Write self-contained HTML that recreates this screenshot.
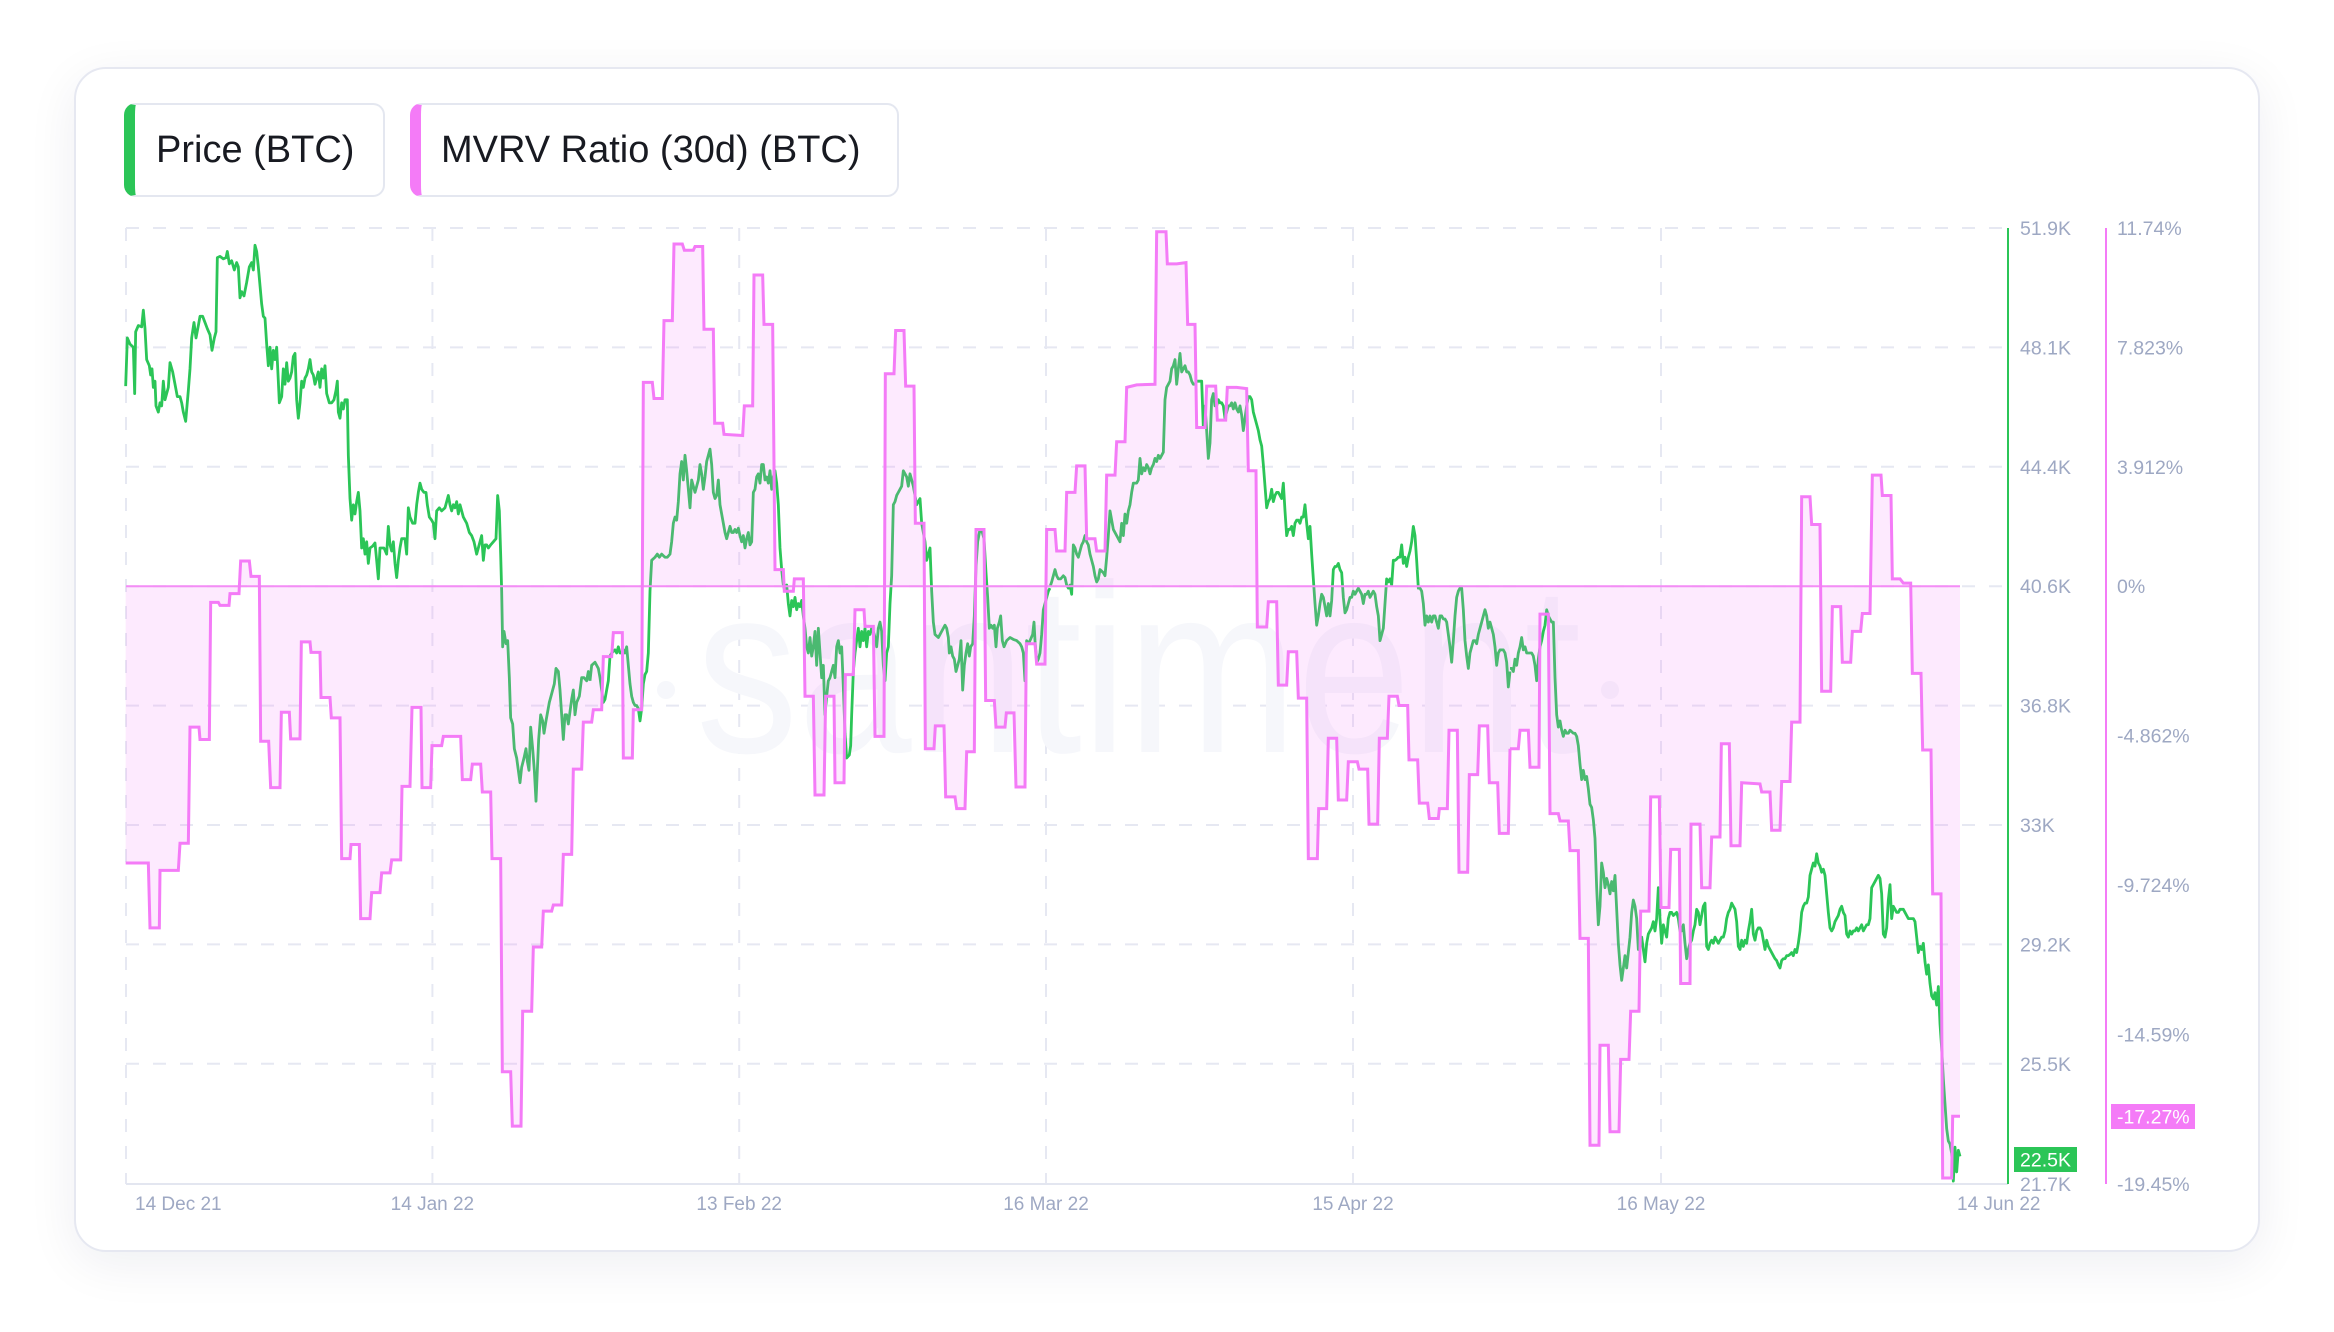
<!DOCTYPE html>
<html>
<head>
<meta charset="utf-8">
<style>
  html, body { margin:0; padding:0; }
  body { width:2334px; height:1332px; background:#ffffff; position:relative; overflow:hidden; font-family:"Liberation Sans", sans-serif; }
  .card { position:absolute; left:74px; top:67px; width:2182px; height:1181px; border:2px solid #e6e8f1; border-radius:32px; background:#fff; box-shadow:0 12px 50px rgba(20,30,70,0.07); }
  .leg { position:absolute; top:103px; height:90px; border:2px solid #e4e7f0; border-left:11px solid #2bc557; border-radius:12px; background:#fff; box-sizing:content-box; }
  .leg span { position:absolute; top:0; font-size:38px; line-height:90px; color:#181a21; white-space:nowrap; }
  svg { position:absolute; left:0; top:0; }
</style>
</head>
<body>
<div class="card"></div>
<div class="leg" style="left:124px; width:248px;"><span style="left:21px;">Price (BTC)</span></div>
<div class="leg" style="left:410px; width:476px; border-left-color:#f47bf7;"><span style="left:20px;">MVRV Ratio (30d) (BTC)</span></div>

<svg width="2334" height="1332" viewBox="0 0 2334 1332" xmlns="http://www.w3.org/2000/svg">
  <!-- horizontal grid -->
  <g stroke="#e6e8f2" stroke-width="2" stroke-dasharray="13 14" fill="none">
    <line x1="126" y1="228" x2="2008" y2="228"/>
    <line x1="126" y1="347.4" x2="2008" y2="347.4"/>
    <line x1="126" y1="466.8" x2="2008" y2="466.8"/>
    <line x1="126" y1="586.2" x2="2008" y2="586.2"/>
    <line x1="126" y1="705.6" x2="2008" y2="705.6"/>
    <line x1="126" y1="825" x2="2008" y2="825"/>
    <line x1="126" y1="944.4" x2="2008" y2="944.4"/>
    <line x1="126" y1="1063.8" x2="2008" y2="1063.8"/>
    <line x1="126" y1="228" x2="126" y2="1184"/>
    <line x1="432.4" y1="228" x2="432.4" y2="1184"/>
    <line x1="739.2" y1="228" x2="739.2" y2="1184"/>
    <line x1="1046" y1="228" x2="1046" y2="1184"/>
    <line x1="1353" y1="228" x2="1353" y2="1184"/>
    <line x1="1661" y1="228" x2="1661" y2="1184"/>
  </g>
  <line x1="126" y1="1184" x2="2008" y2="1184" stroke="#e3e6f0" stroke-width="2"/>

  <!-- watermark -->
  <g fill="#f6f7fb">
    <text x="696" y="752" font-family="Liberation Sans, sans-serif" font-size="240" textLength="885" lengthAdjust="spacingAndGlyphs">santiment</text>
    <circle cx="666" cy="690" r="9"/>
    <circle cx="1610" cy="690" r="9"/>
  </g>

  <!-- green price line -->
  <g fill="none" stroke="#2bc557" stroke-width="2.8" stroke-linejoin="round">
    <g transform="translate(120,228) scale(0.333333,0.6177) translate(0,-12)">
      <polyline vector-effect="non-scaling-stroke" points="17,268 22,190 30,200 40,205 44,280 47,180 55,170 65,172 70,145 75,175 80,225 88,235 92,250 96,240 100,270 105,260 108,300 115,310 120,295 125,300 130,260 135,290 140,280 145,270 150,230 158,245 165,265 172,285 180,285 185,295 190,310 197,325 205,275 210,240 215,190 222,165 228,190 235,170 240,155 248,155 255,165 262,175 270,185 276,210 283,190 288,180 292,60 300,58 310,62 318,60 322,50 328,70 335,65 343,80 350,68 355,75 360,125 365,115 372,122 380,100 388,75 395,68 400,80 405,40 410,50 415,75 420,105 425,135 430,155 435,158 440,200 445,235 450,205 455,240 460,210 465,225 470,205 475,260 478,295 485,285 490,240 495,265 500,230 505,260 510,255 515,245 520,220 525,215 530,290 535,320 540,295 545,260 550,270 555,255 560,250 565,240 570,225 575,245 580,250 585,265 590,255 595,245 600,270 605,240 610,255 615,235 620,280 628,295 635,295 642,290 648,275 652,260 655,310 660,320 665,295 670,305 675,290 682,290 685,380 690,450 695,485 700,460 705,475 710,455 715,440 720,470 725,530 730,515 735,540 740,520 745,555 750,530 758,527 765,522 770,550 775,580 780,530 785,530 792,530 800,540 805,495 810,525 815,535 820,520 825,555 830,578 835,550 840,530 845,515 855,515 860,540 865,465 870,480 878,490 885,490 890,460 895,440 900,425 905,435 912,440 918,440 922,460 928,480 935,485 940,490 945,515 950,470 958,465 965,470 975,465 985,445 990,460 995,470 1000,460 1005,465 1010,455 1015,475 1020,460 1025,470 1030,480 1040,490 1048,505 1055,510 1062,520 1070,540 1075,530 1080,520 1085,510 1090,550 1095,525 1100,525 1105,530 1112,525 1120,520 1128,515 1133,445 1138,470 1142,540 1145,600 1148,690 1152,665 1158,685 1163,680 1168,740 1172,805 1178,815 1183,855 1190,870 1195,890 1200,910 1205,885 1212,870 1218,855 1222,875 1227,890 1232,820 1238,855 1243,890 1248,940 1252,890 1256,840 1262,800 1268,810 1272,830 1278,810 1283,795 1288,780 1293,770 1298,760 1303,750 1308,725 1315,730 1320,760 1325,800 1330,840 1335,800 1340,800 1345,815 1350,795 1355,775 1360,760 1365,800 1370,780 1378,770 1385,740 1392,740 1400,745 1405,730 1410,745"/>
    </g>
    <g transform="translate(580,228) scale(0.333333,0.6177) translate(0,-12)">
      <polyline vector-effect="non-scaling-stroke" points="30,745 35,720 45,715 55,725 60,740 65,760 70,780 75,775 80,760 85,745 90,705 95,700 105,695 110,700 115,690 120,700 125,700 130,695 135,700 140,690 145,720 150,750 155,770 160,780 165,785 170,785 175,790 180,810 185,790 190,750 195,735 200,730 205,700 210,600 215,550 225,545 232,540 238,545 245,540 255,545 262,545 270,540 275,520 280,490 285,480 290,485 295,455 300,410 305,390 310,420 315,380 320,405 325,435 330,465 335,420 340,430 345,440 350,430 355,420 360,395 365,410 370,435 375,415 380,390 385,380 390,370 395,395 400,440 405,450 410,445 415,420 420,460 425,475 430,490 435,505 440,515 445,505 450,495 455,505 460,505 465,500 470,505 475,498 480,510 485,520 490,510 495,530 500,515 505,505 510,525 515,520 520,440 525,435 530,415 535,410 540,425 545,395 550,395 555,420 560,415 565,425 570,405 575,435 580,415 585,405 590,425 595,460 600,530 605,565 610,590 615,600 620,590 625,620 630,640 635,615 640,625 645,610 650,630 655,620 660,625 665,615 670,640 675,660 680,690 685,700 690,675 695,705 700,690 705,665 710,720 715,660 720,700 725,740 730,720 735,800 740,770 745,745 750,740 755,730 760,720 765,740 770,690 775,680 780,700 785,690 790,755 795,830 800,870 808,865 812,850 815,800 820,730 825,700 830,680 835,660 840,690 845,665 850,680 855,660 860,690 865,665 870,670 875,660 880,665 885,675 890,690 895,660 900,650 905,665 910,720 915,745 920,700 925,690 930,620 935,575 940,460 945,455 950,445 955,440 960,435 965,430 970,405 975,410 980,415 985,430 990,410 995,420 1000,430 1005,445 1010,460 1015,455 1020,450 1025,490 1030,505 1035,520 1040,550 1045,540 1050,530 1055,600 1060,650 1065,670 1075,675 1085,665 1095,655 1100,660 1105,675 1108,700 1113,690 1118,705 1123,710 1128,730 1133,720 1138,710 1143,680 1148,760 1153,720 1158,700 1163,685 1168,705 1172,690 1178,685 1183,640 1188,560 1193,520 1200,500 1207,505 1212,515 1218,570 1223,610 1228,660 1233,655 1238,660 1243,655 1248,690 1252,660 1258,650 1262,640 1267,680 1272,690 1280,680 1290,675 1300,678 1310,680 1320,685 1325,690 1330,700 1335,745 1340,680 1345,685 1350,680 1358,670 1362,650 1365,680 1370,715 1375,710 1380,700 1385,670 1390,630 1395,620 1405,600 1410,595"/>
    </g>
    <g transform="translate(1040,228) scale(0.333333,0.6177) translate(0,-12)">
      <polyline vector-effect="non-scaling-stroke" points="30,593 35,585 40,575 45,565 50,575 55,580 62,580 70,575 75,578 80,590 85,595 90,590 95,605 100,525 105,530 110,540 115,545 120,535 125,525 130,520 135,510 140,520 145,525 150,540 155,550 160,560 165,575 170,585 175,580 180,565 190,570 195,575 200,545 205,510 210,470 215,485 220,500 230,510 240,520 245,490 250,510 255,475 260,490 265,470 270,460 275,440 280,425 290,425 295,420 300,385 305,410 310,400 315,405 320,395 325,400 330,410 335,400 340,395 345,385 350,390 355,380 360,385 365,380 370,375 375,290 380,270 385,265 390,260 395,240 400,235 405,225 410,265 415,240 420,215 425,245 430,240 435,235 440,245 445,245 450,250 455,260 460,265 465,265 470,260 478,260 485,260 490,335 495,300 500,340 505,385 510,360 515,290 520,280 525,300 530,300 535,290 540,295 545,295 550,300 555,320 560,310 565,300 570,300 575,295 580,305 585,295 590,305 595,310 600,300 605,315 610,340 615,320 620,300 625,285 630,285 635,290 640,310 645,320 650,330 655,340 660,355 665,365 670,395 675,430 680,465 685,455 690,450 695,435 700,455 705,445 710,440 715,440 720,445 725,450 730,425 735,470 740,510 745,500 750,500 755,495 760,510 765,490 770,485 775,485 780,490 785,480 790,480 795,460 800,490 805,515 810,495 815,540 820,580 825,620 830,655 835,640 840,620 845,605 850,610 855,625 860,640 865,620 870,640 875,615 880,565 885,560 890,560 895,555 900,565 905,570 910,610 915,635 920,630 925,620 930,610 935,610 940,600 945,605 950,600 955,595 960,600 965,605 970,620 975,605 980,605 985,600 990,610 995,605 1000,600 1005,605 1010,625 1015,640 1020,680 1025,670 1030,660 1035,620 1040,580 1045,585 1050,580 1055,590 1060,550 1065,550 1070,548 1075,545 1080,545 1085,525 1090,555 1095,545 1100,560 1105,545 1110,535 1115,520 1120,495 1125,510 1130,550 1135,595 1140,595 1145,600 1150,620 1155,655 1160,640 1165,650 1170,640 1175,650 1180,640 1185,640 1190,650 1195,660 1200,640 1205,640 1210,645 1215,645 1220,650 1225,670 1230,690 1235,715 1240,680 1245,640 1250,610 1255,600 1260,595 1265,595 1270,630 1275,680 1280,705 1285,725 1290,700 1295,690 1300,680 1305,680 1310,685 1315,670 1320,660 1325,650 1330,640 1335,630 1340,640 1345,660 1350,650 1355,660 1360,670 1365,690 1370,720 1375,700 1380,695 1390,695 1395,700 1400,715 1405,755 1410,730"/>
    </g>
    <g transform="translate(1500,228) scale(0.333333,0.6177) translate(0,-12)">
      <polyline vector-effect="non-scaling-stroke" points="30,725 35,725 40,730 45,710 50,720 55,700 60,690 65,675 70,695 75,690 80,700 90,700 95,700 100,705 105,720 110,745 115,710 120,690 125,680 130,665 135,655 140,630 145,640 150,645 155,650 160,650 165,740 170,800 175,820 180,810 185,825 190,835 195,825 200,830 205,830 210,825 220,830 225,830 230,835 235,850 240,880 245,905 250,890 255,905 260,900 265,920 270,945 275,950 280,970 285,1000 290,1080 295,1140 300,1110 305,1040 310,1055 315,1080 320,1065 325,1075 330,1090 335,1070 340,1085 345,1060 350,1115 355,1170 360,1205 365,1230 370,1210 375,1190 380,1210 385,1185 390,1160 395,1120 400,1100 405,1110 410,1130 415,1180 420,1170 425,1160 430,1180 435,1200 440,1170 445,1155 450,1150 455,1145 460,1135 465,1150 470,1130 475,1080 480,1130 485,1170 490,1140 495,1150 500,1160 505,1130 510,1120 515,1120 520,1125 530,1120 535,1130 540,1150 545,1150 550,1140 555,1170 560,1195 565,1180 570,1170 575,1165 580,1150 585,1140 590,1115 595,1120 600,1140 605,1125 610,1110 615,1105 620,1175 625,1180 630,1170 635,1165 640,1170 645,1160 650,1165 655,1170 665,1160 670,1160 675,1150 680,1130 685,1120 690,1115 695,1105 700,1110 705,1115 710,1135 715,1175 720,1180 725,1165 730,1175 735,1165 740,1170 745,1150 750,1135 755,1115 760,1155 765,1165 770,1150 775,1145 780,1145 785,1150 790,1165 795,1180 800,1165 805,1175 810,1180 815,1185 820,1190 825,1195 830,1198 835,1205 840,1210 845,1198 850,1195 855,1195 860,1190 865,1190 870,1188 875,1185 880,1190 885,1180 890,1185 895,1170 900,1150 905,1120 910,1110 915,1105 920,1105 925,1095 930,1060 935,1050 940,1040 945,1045 950,1025 955,1040 960,1045 965,1055 970,1050 975,1060 980,1090 985,1120 990,1145 995,1150 1000,1145 1005,1135 1010,1130 1015,1125 1020,1115 1025,1110 1030,1120 1035,1125 1040,1155 1045,1160 1050,1150 1055,1155 1060,1150 1065,1150 1070,1145 1075,1150 1080,1145 1085,1140 1090,1150 1095,1145 1100,1140 1105,1140 1110,1130 1115,1080 1120,1075 1125,1070 1130,1065 1135,1060 1140,1065 1145,1090 1150,1155 1155,1160 1160,1145 1165,1100 1170,1075 1175,1130 1180,1110 1185,1115 1190,1120 1195,1120 1200,1115 1210,1115 1215,1120 1220,1125 1225,1130 1230,1130 1240,1130 1245,1135 1250,1160 1255,1185 1260,1175 1265,1180 1270,1170 1275,1200 1280,1220 1285,1205 1290,1235 1295,1255 1300,1260 1305,1250 1310,1270 1315,1240 1320,1300 1325,1340 1330,1390 1335,1430 1340,1470 1345,1490 1350,1495 1355,1510 1360,1555 1365,1500 1370,1540 1375,1505 1380,1515"/>
    </g>
  </g>

  <!-- MVRV fill -->
  <g fill="#f47bf7" fill-opacity="0.16" stroke="none">
    <g transform="translate(120,228) scale(0.333333,0.6177) translate(0,-12)">
      <path d="M17,592 L17,1040 85,1040 90,1145 118,1145 120,1052 175,1052 180,1008 205,1008 210,820 237,820 240,840 268,840 272,618 295,618 300,623 327,623 330,604 357,604 362,551 388,551 393,576 418,576 422,843 446,843 452,918 480,918 484,796 508,796 512,839 540,839 544,682 570,682 573,699 600,699 603,772 630,772 634,805 660,805 665,1033 690,1033 693,1010 718,1010 722,1130 750,1130 755,1088 780,1088 785,1056 810,1056 815,1035 842,1035 846,916 870,916 876,788 903,788 906,918 932,918 936,850 965,850 970,835 1022,835 1027,905 1052,905 1057,880 1082,880 1087,925 1112,925 1116,1033 1142,1033 1147,1378 1172,1378 1177,1466 1203,1466 1208,1280 1235,1280 1240,1176 1265,1176 1270,1118 1295,1118 1300,1108 1325,1108 1330,1026 1355,1026 1360,888 1385,888 1390,812 1410,812 L1410,592 Z"/>
    </g>
    <g transform="translate(580,228) scale(0.333333,0.6177) translate(0,-12)">
      <path d="M30,592 L30,812 35,812 40,792 65,792 70,706 95,706 100,667 127,667 130,870 157,870 160,792 185,792 190,262 217,262 222,288 247,288 252,162 277,162 282,38 307,38 313,48 340,48 345,42 368,42 372,176 400,176 404,328 428,328 432,346 488,348 493,300 518,300 522,88 548,88 552,168 578,168 585,565 610,565 613,600 640,600 643,580 670,580 675,770 700,770 705,930 732,930 737,770 762,770 765,910 792,910 796,735 820,735 825,630 852,630 855,657 880,657 885,835 912,835 916,248 942,248 947,178 972,178 977,268 1002,268 1006,490 1032,490 1036,855 1062,855 1066,818 1092,818 1097,933 1125,933 1130,952 1155,952 1160,860 1183,860 1188,500 1212,500 1217,777 1243,777 1248,820 1275,820 1279,797 1302,797 1308,917 1335,917 1339,685 1365,685 1370,718 1395,718 1400,500 1410,500 L1410,592 Z"/>
    </g>
    <g transform="translate(1040,228) scale(0.333333,0.6177) translate(0,-12)">
      <path d="M30,592 L30,500 45,500 50,535 75,535 80,440 105,440 110,397 135,397 140,515 165,515 170,535 195,535 200,412 225,412 230,358 255,358 260,270 290,266 345,265 350,18 378,18 382,70 410,70 438,68 443,168 465,168 470,335 495,335 500,268 527,268 532,323 557,323 562,270 590,270 620,272 625,405 648,405 652,658 680,658 685,617 710,617 715,752 740,752 745,698 770,698 775,773 800,773 805,1033 832,1033 836,952 860,952 865,838 890,838 895,938 920,938 925,876 952,876 957,888 983,888 987,977 1013,977 1018,838 1042,838 1047,770 1072,770 1077,785 1103,785 1107,873 1133,873 1138,943 1163,943 1168,968 1195,968 1198,952 1222,952 1227,825 1252,825 1257,1055 1283,1055 1288,897 1313,897 1318,818 1343,818 1348,910 1373,910 1378,992 1405,992 1410,855 L1410,592 Z"/>
    </g>
    <g transform="translate(1500,228) scale(0.333333,0.6177) translate(0,-12)">
      <path d="M30,592 L30,855 55,855 60,825 85,825 90,885 117,885 120,637 145,637 150,960 175,960 180,972 205,972 210,1020 235,1020 240,1162 265,1162 270,1497 297,1497 300,1335 325,1335 330,1475 357,1475 362,1358 387,1358 392,1280 417,1280 422,1118 447,1118 452,933 478,933 483,1112 507,1112 512,1018 538,1018 542,1235 570,1235 573,977 600,977 605,1080 630,1080 635,998 660,998 664,847 688,847 693,1012 720,1012 725,910 780,912 785,925 810,925 815,987 840,987 845,908 870,908 875,812 900,812 905,447 930,447 935,492 960,492 965,762 992,762 997,625 1022,625 1027,715 1052,715 1057,665 1082,665 1087,636 1110,636 1117,412 1143,412 1147,445 1173,445 1177,580 1200,580 1210,587 1232,587 1237,733 1263,733 1268,857 1293,857 1298,1090 1323,1090 1328,1550 1355,1550 1358,1450 1380,1450 L1380,592 Z"/>
    </g>
  </g>

  <!-- zero baseline -->
  <line x1="126" y1="586.3" x2="1960" y2="586.3" stroke="#f48cf6" stroke-width="2"/>

  <!-- MVRV line -->
  <g fill="none" stroke="#f47bf7" stroke-width="3" stroke-linejoin="miter">
    <g transform="translate(120,228) scale(0.333333,0.6177) translate(0,-12)">
      <polyline vector-effect="non-scaling-stroke" points="17,1040 85,1040 90,1145 118,1145 120,1052 175,1052 180,1008 205,1008 210,820 237,820 240,840 268,840 272,618 295,618 300,623 327,623 330,604 357,604 362,551 388,551 393,576 418,576 422,843 446,843 452,918 480,918 484,796 508,796 512,839 540,839 544,682 570,682 573,699 600,699 603,772 630,772 634,805 660,805 665,1033 690,1033 693,1010 718,1010 722,1130 750,1130 755,1088 780,1088 785,1056 810,1056 815,1035 842,1035 846,916 870,916 876,788 903,788 906,918 932,918 936,850 965,850 970,835 1022,835 1027,905 1052,905 1057,880 1082,880 1087,925 1112,925 1116,1033 1142,1033 1147,1378 1172,1378 1177,1466 1203,1466 1208,1280 1235,1280 1240,1176 1265,1176 1270,1118 1295,1118 1300,1108 1325,1108 1330,1026 1355,1026 1360,888 1385,888 1390,812 1410,812"/>
    </g>
    <g transform="translate(580,228) scale(0.333333,0.6177) translate(0,-12)">
      <polyline vector-effect="non-scaling-stroke" points="30,812 35,812 40,792 65,792 70,706 95,706 100,667 127,667 130,870 157,870 160,792 185,792 190,262 217,262 222,288 247,288 252,162 277,162 282,38 307,38 313,48 340,48 345,42 368,42 372,176 400,176 404,328 428,328 432,346 488,348 493,300 518,300 522,88 548,88 552,168 578,168 585,565 610,565 613,600 640,600 643,580 670,580 675,770 700,770 705,930 732,930 737,770 762,770 765,910 792,910 796,735 820,735 825,630 852,630 855,657 880,657 885,835 912,835 916,248 942,248 947,178 972,178 977,268 1002,268 1006,490 1032,490 1036,855 1062,855 1066,818 1092,818 1097,933 1125,933 1130,952 1155,952 1160,860 1183,860 1188,500 1212,500 1217,777 1243,777 1248,820 1275,820 1279,797 1302,797 1308,917 1335,917 1339,685 1365,685 1370,718 1395,718 1400,500 1410,500"/>
    </g>
    <g transform="translate(1040,228) scale(0.333333,0.6177) translate(0,-12)">
      <polyline vector-effect="non-scaling-stroke" points="30,500 45,500 50,535 75,535 80,440 105,440 110,397 135,397 140,515 165,515 170,535 195,535 200,412 225,412 230,358 255,358 260,270 290,266 345,265 350,18 378,18 382,70 410,70 438,68 443,168 465,168 470,335 495,335 500,268 527,268 532,323 557,323 562,270 590,270 620,272 625,405 648,405 652,658 680,658 685,617 710,617 715,752 740,752 745,698 770,698 775,773 800,773 805,1033 832,1033 836,952 860,952 865,838 890,838 895,938 920,938 925,876 952,876 957,888 983,888 987,977 1013,977 1018,838 1042,838 1047,770 1072,770 1077,785 1103,785 1107,873 1133,873 1138,943 1163,943 1168,968 1195,968 1198,952 1222,952 1227,825 1252,825 1257,1055 1283,1055 1288,897 1313,897 1318,818 1343,818 1348,910 1373,910 1378,992 1405,992 1410,855"/>
    </g>
    <g transform="translate(1500,228) scale(0.333333,0.6177) translate(0,-12)">
      <polyline vector-effect="non-scaling-stroke" points="30,855 55,855 60,825 85,825 90,885 117,885 120,637 145,637 150,960 175,960 180,972 205,972 210,1020 235,1020 240,1162 265,1162 270,1497 297,1497 300,1335 325,1335 330,1475 357,1475 362,1358 387,1358 392,1280 417,1280 422,1118 447,1118 452,933 478,933 483,1112 507,1112 512,1018 538,1018 542,1235 570,1235 573,977 600,977 605,1080 630,1080 635,998 660,998 664,847 688,847 693,1012 720,1012 725,910 780,912 785,925 810,925 815,987 840,987 845,908 870,908 875,812 900,812 905,447 930,447 935,492 960,492 965,762 992,762 997,625 1022,625 1027,715 1052,715 1057,665 1082,665 1087,636 1110,636 1117,412 1143,412 1147,445 1173,445 1177,580 1200,580 1210,587 1232,587 1237,733 1263,733 1268,857 1293,857 1298,1090 1323,1090 1328,1550 1355,1550 1358,1450 1380,1450"/>
    </g>
  </g>

  <!-- axes lines -->
  <line x1="2008" y1="228" x2="2008" y2="1184" stroke="#2bc557" stroke-width="2"/>
  <line x1="2106" y1="228" x2="2106" y2="1184" stroke="#f47bf7" stroke-width="2"/>

  <!-- price axis labels -->
  <g font-family="Liberation Sans, sans-serif" font-size="19.5" fill="#9ea8c3">
    <text x="2020" y="235">51.9K</text>
    <text x="2020" y="354.4">48.1K</text>
    <text x="2020" y="473.8">44.4K</text>
    <text x="2020" y="593.2">40.6K</text>
    <text x="2020" y="712.6">36.8K</text>
    <text x="2020" y="832">33K</text>
    <text x="2020" y="951.4">29.2K</text>
    <text x="2020" y="1070.8">25.5K</text>
    <text x="2020" y="1191">21.7K</text>

    <text x="2117" y="235">11.74%</text>
    <text x="2117" y="354.4">7.823%</text>
    <text x="2117" y="473.8">3.912%</text>
    <text x="2117" y="593.2">0%</text>
    <text x="2117" y="742.6">-4.862%</text>
    <text x="2117" y="892">-9.724%</text>
    <text x="2117" y="1041.6">-14.59%</text>
    <text x="2117" y="1191">-19.45%</text>
  </g>

  <!-- badges -->
  <rect x="2014" y="1147" width="63" height="25" fill="#2bc557"/>
  <text x="2020" y="1166.5" font-family="Liberation Sans, sans-serif" font-size="19.5" fill="#ffffff">22.5K</text>
  <rect x="2111" y="1104" width="84" height="25" fill="#f47bf7"/>
  <text x="2117" y="1123.5" font-family="Liberation Sans, sans-serif" font-size="19.5" fill="#ffffff">-17.27%</text>

  <!-- x axis labels -->
  <g font-family="Liberation Sans, sans-serif" font-size="19" fill="#9ea8c3">
    <text x="135" y="1210">14 Dec 21</text>
    <text x="432.4" y="1210" text-anchor="middle">14 Jan 22</text>
    <text x="739.2" y="1210" text-anchor="middle">13 Feb 22</text>
    <text x="1046" y="1210" text-anchor="middle">16 Mar 22</text>
    <text x="1353" y="1210" text-anchor="middle">15 Apr 22</text>
    <text x="1661" y="1210" text-anchor="middle">16 May 22</text>
    <text x="1957" y="1210">14 Jun 22</text>
  </g>
</svg>
</body>
</html>
